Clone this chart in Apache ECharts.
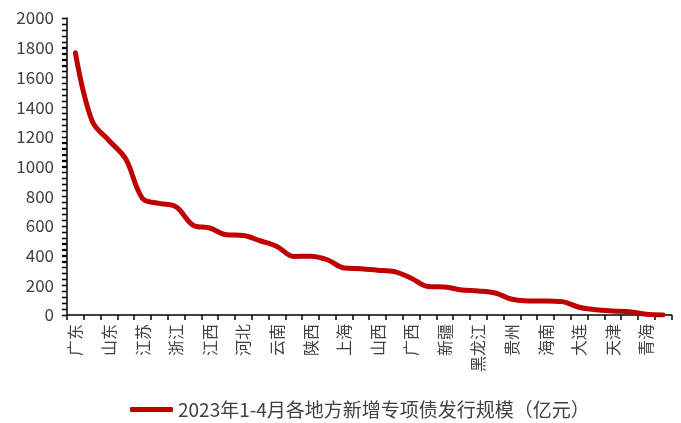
<!DOCTYPE html>
<html><head><meta charset="utf-8">
<script src="https://cdn.jsdelivr.net/npm/echarts@6/dist/echarts.min.js"></script>
<style>html,body{margin:0;padding:0;background:#fff}#c{width:681px;height:423px}</style>
</head><body><div id="c"></div>
<script>
const categories = ['广东','四川','山东','河南','江苏','湖北','浙江','安徽','江西','湖南','河北','北京','云南','重庆','陕西','福建','上海','甘肃','山西','内蒙古','广西','辽宁','新疆','吉林','黑龙江','宁波','贵州','青岛','海南','深圳','大连','厦门','天津','宁夏','青海','西藏'];
const values = [1765,1305,1175,1050,785,752,728,606,586,540,536,500,462,394,396,372,316,311,302,292,248,192,189,168,162,148,106,95,95,90,52,35,27,22,5,0];
const yTicks = {min:0, max:2000, labelStep:200, tickStep:40};
const tickValues = [];
for (let v = yTicks.min; v <= yTicks.max; v += yTicks.tickStep) tickValues.push(v);
const seriesName = '2023年1-4月各地方新增专项债发行规模（亿元）';
const font = '"Noto Sans CJK SC", sans-serif';
const chart = echarts.init(document.getElementById('c'));
chart.setOption({
  animation:false,
  grid:{left:67, right:9.5, top:18, bottom:108},
  legend:{bottom:-1, left:125, icon:'roundRect', itemWidth:43, itemHeight:5, itemGap:6,
    textStyle:{fontFamily:font, fontSize:19, color:'#404040'}, data:[seriesName]},
  xAxis:{type:'category', data:categories, boundaryGap:true,
    axisLine:{lineStyle:{color:'#000', width:1.5}},
    axisTick:{show:true, interval:0, length:5, lineStyle:{color:'#000', width:1.5}},
    axisLabel:{interval:1, rotate:90, fontFamily:font, fontSize:16, color:'#404040', margin:9}},
  yAxis:{type:'value', min:yTicks.min, max:yTicks.max, interval:yTicks.tickStep,
    splitLine:{show:false},
    axisLine:{show:true, lineStyle:{color:'#000', width:1.5}},
    axisTick:{show:true, length:5, lineStyle:{color:'#000', width:1.3}},
    axisLabel:{fontFamily:font, fontSize:17, color:'#404040', margin:13,
      formatter:v=> (v % yTicks.labelStep === 0 ? String(v) : '')}},
  series:[
    {name:seriesName, type:'line', data:values, smooth:0.35, showSymbol:false, symbol:'none', z:3,
      lineStyle:{color:'#C00000', width:5, cap:'round', join:'round'}, itemStyle:{color:'#C00000'}},
    {name:'yticks', type:'custom', clip:false, silent:true, z:2,
      data:tickValues.map(v=>[0, v]),
      renderItem:(params, api)=>{
        const p = api.coord([0, api.value(1)]);
        const half = api.size([1, 0])[0] / 2;
        const x = Math.round(p[0] - half);
        const y = Math.round(p[1]) + 0.5;
        return {type:'line', shape:{x1:x - 5, y1:y, x2:x, y2:y}, style:{stroke:'#000', lineWidth:1.3}};
      }}
  ]
});
</script></body></html>
